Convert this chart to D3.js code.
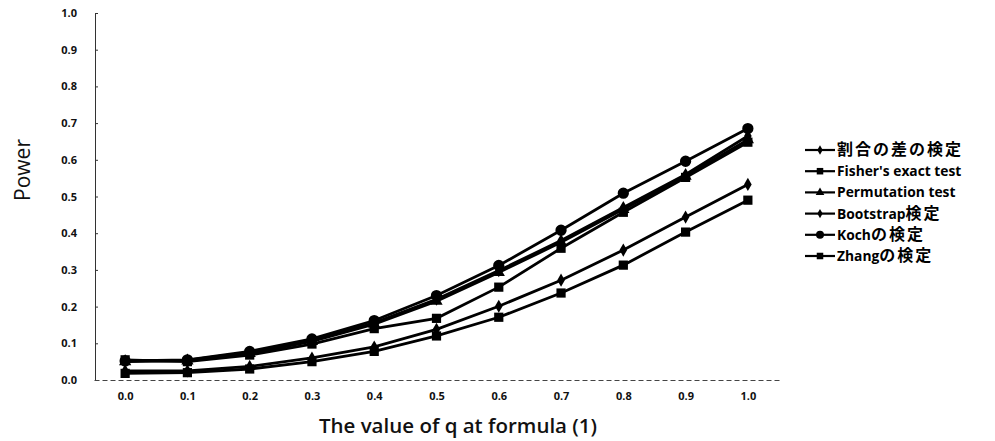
<!DOCTYPE html>
<html>
<head>
<meta charset="utf-8">
<script src="https://cdn.jsdelivr.net/npm/d3@7"></script>
<style>
  body { margin: 0; background: #fff; }
  svg { display: block; }
</style>
</head>
<body>
<div id="chart"></div>
<script>
var qValues = ["0.0", "0.1", "0.2", "0.3", "0.4", "0.5", "0.6", "0.7", "0.8", "0.9", "1.0"];
var yTicks = [0, 0.1, 0.2, 0.3, 0.4, 0.5, 0.6, 0.7, 0.8, 0.9, 1.0];

var seriesNames = ["割合の差の検定", "Fisher's exact test", "Permutation test", "Bootstrap検定", "Kochの検定", "Zhangの検定"];
var seriesSymbols = ["diamond", "square", "triangle", "diamond", "circle", "square"];

var wariai = [0.025, 0.025, 0.037, 0.060, 0.090, 0.138, 0.201, 0.272, 0.354, 0.444, 0.533];
var fisher = [0.018, 0.020, 0.030, 0.050, 0.078, 0.120, 0.171, 0.237, 0.313, 0.403, 0.490];
var permutation = [0.050, 0.052, 0.072, 0.105, 0.152, 0.215, 0.293, 0.375, 0.465, 0.555, 0.655];
var bootstrap = [0.052, 0.054, 0.075, 0.108, 0.156, 0.220, 0.298, 0.380, 0.470, 0.560, 0.665];
var koch = [0.052, 0.055, 0.078, 0.112, 0.162, 0.230, 0.312, 0.408, 0.509, 0.596, 0.685];
var zhang = [0.055, 0.050, 0.068, 0.098, 0.140, 0.168, 0.253, 0.359, 0.457, 0.552, 0.648];

var seriesValues = [wariai, fisher, permutation, bootstrap, koch, zhang];

var width = 995, height = 441;

var svg = d3.select("#chart")
    .append("svg")
    .attr("width", width)
    .attr("height", height);

var x = d3.scalePoint()
    .domain(qValues)
    .range([94, 779])
    .padding(0.5);

var y = d3.scaleLinear()
    .domain([0, 1])
    .range([380, 13]);

var tickFont = "'Open Sans', 'DejaVu Sans', sans-serif";

// y axis
var yAxis = svg.append("g")
    .attr("transform", "translate(95,0)")
    .call(d3.axisLeft(y)
        .tickValues(yTicks)
        .tickFormat(d3.format(".1f"))
        .tickSize(-3)
        .tickSizeOuter(-3)
        .tickPadding(18));
yAxis.select(".domain").attr("stroke", "#333").attr("stroke-width", 1);
yAxis.selectAll(".tick line").attr("stroke", "#333");
yAxis.selectAll("text")
    .attr("fill", "#111")
    .style("font-family", tickFont)
    .style("font-weight", "bold")
    .style("font-size", "11px");

// x axis
var xAxis = svg.append("g")
    .attr("transform", "translate(0,380)")
    .call(d3.axisBottom(x)
        .tickSize(0)
        .tickPadding(12));
xAxis.select(".domain")
    .attr("stroke", "#444")
    .attr("stroke-width", 1)
    .attr("stroke-dasharray", "5,3");
xAxis.selectAll("text")
    .attr("fill", "#111")
    .style("font-family", tickFont)
    .style("font-weight", "bold")
    .style("font-size", "11px");

// axis titles
svg.append("text")
    .attr("transform", "translate(30,170) rotate(-90)")
    .attr("text-anchor", "middle")
    .attr("fill", "#111")
    .style("font-family", tickFont)
    .style("font-size", "21px")
    .text("Power");

svg.append("text")
    .attr("x", 458)
    .attr("y", 433)
    .attr("text-anchor", "middle")
    .attr("fill", "#111")
    .style("font-family", tickFont)
    .style("font-weight", "600")
    .style("font-size", "20.5px")
    .text("The value of q at formula (1)");

var symbolTypes = {
    diamond: { type: d3.symbolDiamond, size: 50 },
    square: { type: d3.symbolSquare, size: 85 },
    triangle: { type: d3.symbolTriangle, size: 65 },
    circle: { type: d3.symbolCircle, size: 100 }
};

var line = d3.line()
    .x(function (d, i) { return x(qValues[i]); })
    .y(function (d) { return y(d); });

seriesValues.forEach(function (vals, s) {
    svg.append("path")
        .datum(vals)
        .attr("fill", "none")
        .attr("stroke", "#000")
        .attr("stroke-width", 2.8)
        .attr("d", line);

    var sym = symbolTypes[seriesSymbols[s]];
    svg.append("g")
        .selectAll("path")
        .data(vals)
        .enter()
        .append("path")
        .attr("transform", function (d, i) { return "translate(" + x(qValues[i]) + "," + y(d) + ")"; })
        .attr("fill", "#000")
        .attr("d", d3.symbol().type(sym.type).size(sym.size));
});

// legend
var legend = svg.append("g").attr("transform", "translate(805,150)");

seriesNames.forEach(function (name, s) {
    var row = legend.append("g").attr("transform", "translate(0," + (s * 21.2) + ")");
    row.append("line")
        .attr("x1", 0).attr("x2", 30)
        .attr("stroke", "#000")
        .attr("stroke-width", 2.2);
    var sym = symbolTypes[seriesSymbols[s]];
    row.append("path")
        .attr("transform", "translate(15,0)")
        .attr("fill", "#000")
        .attr("d", d3.symbol().type(sym.type).size(sym.size * 0.5));

    var t = row.append("text")
        .attr("x", 32)
        .attr("y", 5)
        .attr("fill", "#000")
        .style("font-family", "'Open Sans', 'Noto Sans CJK JP', sans-serif")
        .style("font-size", "14px")
        .style("font-weight", "bold");
    var parts = name.split(/([\u3040-\u30ff\u4e00-\u9fff]+)/).filter(function (p) { return p.length; });
    parts.forEach(function (p) {
        var isCjk = /[\u3040-\u30ff\u4e00-\u9fff]/.test(p);
        t.append("tspan")
            .style("font-family", isCjk ? "'Noto Sans CJK JP', sans-serif" : "'Open Sans', sans-serif")
            .style("font-size", isCjk ? "16px" : "13.8px")
            .style("letter-spacing", isCjk ? "2px" : "0px")
            .text(p);
    });
});
</script>
</body>
</html>
